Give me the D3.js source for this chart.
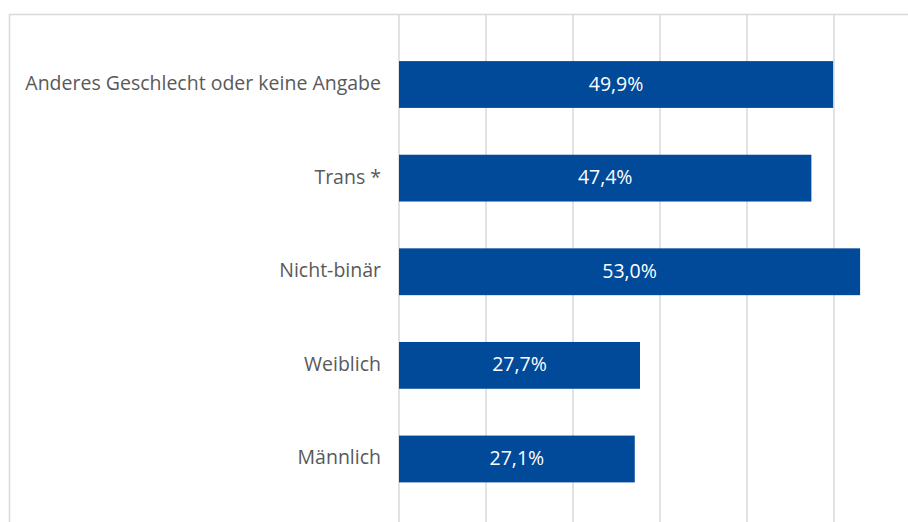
<!DOCTYPE html>
<html>
<head>
<meta charset="utf-8">
<script src="https://cdn.jsdelivr.net/npm/d3@7"></script>
<style>
  body { margin: 0; background: #fff; }
  text { font-family: "Open Sans", sans-serif; }
</style>
</head>
<body>
<svg width="908" height="522"></svg>
<script>
const categories = ["Anderes Geschlecht oder keine Angabe", "Trans *", "Nicht-binär", "Weiblich", "Männlich"];
const values = [49.9, 47.4, 53.0, 27.7, 27.1];
const ticks = [0, 10, 20, 30, 40, 50, 60];

const svg = d3.select("svg");
const x0 = 399;
const x = d3.scaleLinear().domain([0, 60]).range([x0, x0 + 522]);
const y = d3.scaleBand().domain(categories).range([37.7, 505.8]).paddingInner(0.5).paddingOuter(0.25);

// chart frame
svg.append("path")
    .attr("d", "M9.5,522 V14.5 H908")
    .attr("fill", "none")
    .attr("stroke", "#d9d9d9")
    .attr("stroke-width", 1.5);

// gridlines
svg.selectAll(".grid")
    .data(ticks)
    .enter().append("line")
    .attr("x1", d => x(d)).attr("x2", d => x(d))
    .attr("y1", 14).attr("y2", 522)
    .attr("stroke", "#d9d9d9")
    .attr("stroke-width", 1.5);

svg.selectAll(".bar")
    .data(values)
    .enter().append("rect")
    .attr("x", x(0))
    .attr("y", (d, i) => y(categories[i]))
    .attr("width", d => x(d) - x(0))
    .attr("height", y.bandwidth())
    .attr("fill", "#004a99");

svg.selectAll(".val")
    .data(values)
    .enter().append("text")
    .attr("x", d => (x(0) + x(d)) / 2)
    .attr("y", (d, i) => y(categories[i]) + y.bandwidth() / 2 - 1.5)
    .attr("text-anchor", "middle")
    .attr("dominant-baseline", "central")
    .attr("fill", "#fff")
    .attr("font-size", 19.5)
    .text(d => d.toFixed(1).replace(".", ",") + "%");

svg.selectAll(".cat")
    .data(categories)
    .enter().append("text")
    .attr("x", 381)
    .attr("y", d => y(d) + y.bandwidth() / 2 - 2)
    .attr("text-anchor", "end")
    .attr("dominant-baseline", "central")
    .attr("fill", "#595959")
    .attr("font-size", 19.5)
    .text(d => d);
</script>
</body>
</html>
